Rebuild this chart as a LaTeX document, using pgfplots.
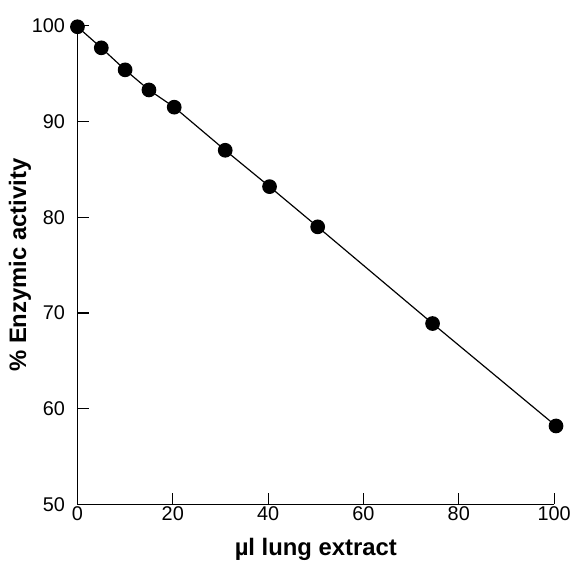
\documentclass[border=0pt]{standalone}
\usepackage{fontspec}
\setmainfont{Liberation Sans}
\usepackage{pgfplots}
\pgfplotsset{compat=1.18}

\begin{document}
\begin{tikzpicture}
\begin{axis}[
  scale only axis, width=480pt, height=482pt,
  xmin=0, xmax=100, ymin=50, ymax=100, enlargelimits=false,
  axis lines=left, axis line style={-, line width=1.5pt},
  tick align=inside, major tick length=12pt, tick style={line width=1.2pt, black},
  xtick={0,20,...,100}, ytick={50,60,...,100},
  ticklabel style={font=\fontsize{20}{24}\selectfont},
  xticklabel style={yshift=1pt}, yticklabel style={xshift=-9pt},
  /pgf/number format/assume math mode=true,
  xlabel={\bfseries µl lung extract}, ylabel={\bfseries \% Enzymic activity},
  label style={font=\fontsize{24}{28}\selectfont},
  xlabel style={yshift=-10pt}, ylabel style={yshift=-6pt},
  clip=false]
\addplot[black, line width=1.2pt, mark=*, mark size=6.8pt, mark options={fill=black}] coordinates {
(0,99.9)(5,97.7)(10,95.4)(15,93.3)(20.3,91.5)(31,87.0)(40.3,83.2)(50.4,79.0)(74.5,68.9)(100.4,58.2)};
\end{axis}
\path ([xshift=-78pt, yshift=26pt]current axis.north west) -- ([yshift=26pt]current axis.north east);
\end{tikzpicture}
\end{document}
